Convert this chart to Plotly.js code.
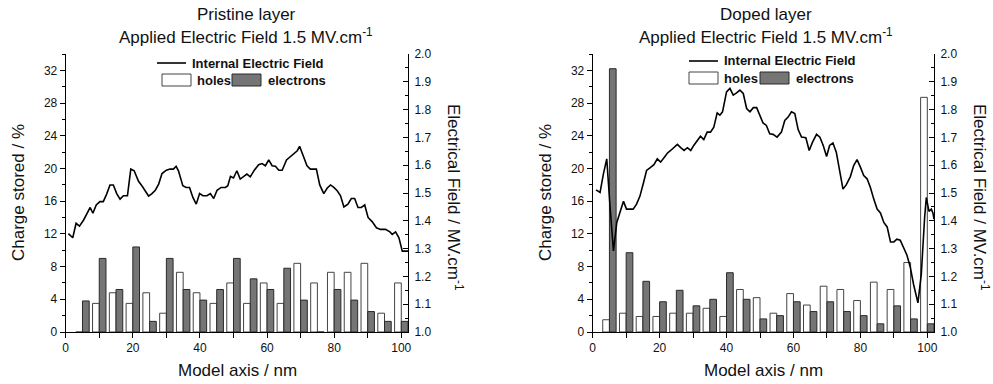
<!DOCTYPE html>
<html><head><meta charset="utf-8">
<script src="https://cdn.plot.ly/plotly-3.0.1.min.js"></script>
<style>html,body{margin:0;padding:0;background:#fff}#chart{width:993px;height:384px}</style>
</head><body><div id="chart"></div>
<script>
// Group centres (nm) of the hole/electron bar pairs
const groupCenters = [5,10,15,20,25,30,35,40,45,50,55,60,65,70,75,80,85,90,95,100];

// Pristine layer
const pristineHoles =     [0,3.5,4.8,3.5,4.8,2.3,7.3,4.8,3.5,6.0,3.5,6.0,3.5,8.4,6.0,7.3,7.3,8.4,2.3,6.0];
const pristineElectrons = [3.8,9.0,5.2,10.4,1.3,9.0,5.2,3.9,5.2,9.0,6.5,5.2,7.8,3.9,0,5.2,3.9,2.5,1.3,1.3];
const pristineFieldX = [0.8,2.1,3.1,4.1,5.3,6.3,7.3,8.1,9.1,10.2,11.2,12.2,13.2,14.2,15.2,16.2,17.2,18.4,19.4,20.4,21.7,22.7,23.7,24.7,25.7,26.7,27.7,28.7,30.0,31.1,32.1,32.9,33.6,34.9,35.9,36.9,37.9,38.9,39.9,40.9,42.1,43.1,44.1,45.1,46.3,47.6,48.3,49.1,50.0,51.0,52.0,53.0,54.0,55.0,56.2,57.5,58.5,59.5,60.5,61.5,62.5,63.5,64.5,65.8,67.0,68.0,69.0,69.7,70.8,71.9,72.9,74.7,75.7,76.9,77.9,78.9,79.9,80.9,81.9,82.9,84.1,85.1,86.1,87.1,88.1,89.1,90.1,91.3,92.6,93.8,95.3,96.6,97.3,98.3,99.3,100.3,102.0];
const pristineField = [1.354,1.339,1.391,1.381,1.402,1.424,1.448,1.427,1.457,1.469,1.469,1.496,1.529,1.529,1.498,1.478,1.490,1.490,1.586,1.580,1.542,1.526,1.505,1.489,1.498,1.510,1.532,1.570,1.582,1.586,1.586,1.596,1.580,1.526,1.520,1.520,1.484,1.460,1.498,1.490,1.490,1.498,1.480,1.510,1.520,1.520,1.526,1.560,1.554,1.580,1.550,1.558,1.568,1.558,1.582,1.602,1.606,1.598,1.619,1.598,1.596,1.582,1.582,1.619,1.631,1.640,1.652,1.668,1.634,1.598,1.586,1.586,1.529,1.498,1.517,1.529,1.520,1.508,1.490,1.450,1.460,1.480,1.480,1.448,1.448,1.457,1.412,1.397,1.375,1.369,1.369,1.360,1.351,1.360,1.339,1.291,1.291];

// Doped layer
const dopedHoles =     [1.5,2.3,1.9,1.9,2.3,2.3,2.9,1.9,5.2,4.2,2.3,4.7,3.3,5.6,5.2,3.85,6.1,5.2,8.5,28.7];
const dopedElectrons = [32.2,9.7,6.2,3.7,5.1,3.2,4.0,7.25,4.0,1.6,2.0,3.7,2.5,3.7,2.5,2.0,1.0,3.2,1.6,1.0];
const dopedFieldX = [1.0,2.2,3.2,4.2,5.2,6.2,7.2,8.2,9.2,10.1,11.1,12.1,13.1,14.1,15.1,16.1,17.1,18.3,19.3,20.3,21.3,22.3,23.3,24.3,25.3,26.3,27.3,28.3,29.3,30.2,31.2,32.2,33.2,34.2,35.2,36.2,37.2,38.0,38.8,40.0,41.0,42.0,43.0,44.0,45.0,46.0,47.0,48.0,49.0,50.0,50.9,51.9,52.9,53.9,55.1,56.4,57.4,58.4,59.4,60.4,61.4,62.4,63.7,64.7,65.7,66.9,67.9,68.9,69.9,70.8,71.8,72.8,73.8,74.8,75.8,77.0,78.0,79.0,80.0,81.0,82.0,83.0,84.0,85.0,86.0,87.0,88.0,89.0,90.0,90.9,91.9,92.9,93.9,94.9,95.9,97.2,98.2,99.2,99.7,100.5,101.2,101.7,102.0];
const dopedField = [1.511,1.502,1.569,1.623,1.448,1.292,1.394,1.436,1.470,1.442,1.442,1.442,1.460,1.488,1.533,1.581,1.590,1.602,1.623,1.611,1.627,1.643,1.653,1.663,1.675,1.663,1.653,1.663,1.653,1.671,1.689,1.704,1.692,1.719,1.719,1.737,1.788,1.780,1.792,1.864,1.876,1.852,1.860,1.870,1.858,1.804,1.792,1.807,1.807,1.780,1.752,1.743,1.713,1.711,1.701,1.719,1.761,1.773,1.792,1.786,1.728,1.701,1.699,1.653,1.683,1.711,1.701,1.671,1.631,1.671,1.680,1.647,1.581,1.514,1.530,1.559,1.599,1.620,1.593,1.563,1.551,1.520,1.478,1.442,1.428,1.394,1.378,1.324,1.324,1.334,1.330,1.304,1.277,1.234,1.171,1.105,1.207,1.412,1.484,1.434,1.442,1.427,1.406];

const chartTitles = ['Pristine layer','Doped layer'];
const subTitle = 'Applied Electric Field 1.5 MV.cm<sup>-1</sup>';
const xTitle = 'Model axis / nm';
const yLeftTitle = 'Charge stored / %';
const yRightTitle = 'Electrical Field / MV.cm<sup>-1</sup>';
const legendNames = ['Internal Electric Field','holes','electrons'];

const W = 993, H = 384, T = 54, B = 52;
const px = x => x / W;
const py = y => (H - B - y) / (H - T - B);

const FONT = 'Liberation Sans, Arial, sans-serif';
const holeStyle = {color:'#ffffff', line:{color:'#444', width:1}};
const elecStyle = {color:'#757575', line:{color:'#2a2a2a', width:1}};
const lineStyle = {color:'#000', width:1.6};

const traces = [
  {type:'bar', x:groupCenters, y:pristineHoles, xaxis:'x', yaxis:'y', marker:holeStyle, name:legendNames[1], showlegend:false},
  {type:'bar', x:groupCenters, y:pristineElectrons, xaxis:'x', yaxis:'y', marker:elecStyle, name:legendNames[2], showlegend:false},
  {type:'scatter', mode:'lines', x:pristineFieldX, y:pristineField, xaxis:'x', yaxis:'y2', line:lineStyle, name:legendNames[0], showlegend:false},
  {type:'bar', x:groupCenters, y:dopedHoles, xaxis:'x2', yaxis:'y3', marker:holeStyle, name:legendNames[1], showlegend:false},
  {type:'bar', x:groupCenters, y:dopedElectrons, xaxis:'x2', yaxis:'y3', marker:elecStyle, name:legendNames[2], showlegend:false},
  {type:'scatter', mode:'lines', x:dopedFieldX, y:dopedField, xaxis:'x2', yaxis:'y4', line:lineStyle, name:legendNames[0], showlegend:false}
];

const xBase = {range:[0,102], showgrid:false, zeroline:false, showline:true, linecolor:'#000', linewidth:1,
  ticks:'outside', ticklen:5, tickcolor:'#000', dtick:20, tick0:0, tickfont:{size:12, color:'#111'},
  minor:{dtick:10, ticks:'outside', ticklen:5, tickcolor:'#000'}, fixedrange:true};
const yLeftBase = {range:[0,34], showgrid:false, zeroline:false, showline:true, linecolor:'#000', linewidth:1,
  ticks:'outside', ticklen:5, tickcolor:'#000', dtick:4, tick0:0, tickfont:{size:12, color:'#111'},
  minor:{dtick:2, ticks:'outside', ticklen:3, tickcolor:'#000'}, side:'left'};
const yRightBase = {range:[1.0,2.0], showgrid:false, zeroline:false, showline:true, linecolor:'#000', linewidth:1,
  ticks:'inside', ticklen:5, tickcolor:'#000', dtick:0.1, tick0:1.0, tickformat:'.1f', tickfont:{size:12, color:'#111'},
  minor:{dtick:0.05, ticks:'inside', ticklen:3, tickcolor:'#000'}, side:'right', ticklabelstandoff:3};

const dom1 = [65.7/W, 408/W], dom2 = [592.7/W, 934/W];

const ann = [];
const shapes = [];
function addChartText(cx, title){
  ann.push({text:title, x:px(cx), y:py(15), xref:'paper', yref:'paper', showarrow:false, xanchor:'center', yanchor:'middle', font:{size:17, color:'#111', family:FONT}});
  ann.push({text:subTitle, x:px(cx), y:py(36), xref:'paper', yref:'paper', showarrow:false, xanchor:'center', yanchor:'middle', font:{size:17, color:'#111', family:FONT}});
}
addChartText(246, chartTitles[0]);
addChartText(766, chartTitles[1]);
// axis titles
[[237,18,455],[763,545,981]].forEach(([cx, lx, rx]) => {
  ann.push({text:xTitle, x:px(cx), y:py(370), xref:'paper', yref:'paper', showarrow:false, xanchor:'center', yanchor:'middle', font:{size:17, color:'#111', family:FONT}});
  ann.push({text:yLeftTitle, x:px(lx), y:py(193), xref:'paper', yref:'paper', showarrow:false, textangle:-90, xanchor:'center', yanchor:'middle', font:{size:17, color:'#111', family:FONT}});
  ann.push({text:yRightTitle, x:px(rx), y:py(197), xref:'paper', yref:'paper', showarrow:false, textangle:90, xanchor:'center', yanchor:'middle', font:{size:17, color:'#111', family:FONT}});
});
// in-plot legends
function addLegend(lx0, ly, hx0, hy0, hy1, ex0){
  shapes.push({type:'line', xref:'paper', yref:'paper', x0:px(lx0), x1:px(lx0+29), y0:py(ly), y1:py(ly), line:{color:'#000', width:1.6}});
  ann.push({text:'<b>'+legendNames[0]+'</b>', x:px(lx0+33), y:py(ly), xref:'paper', yref:'paper', showarrow:false, xanchor:'left', yanchor:'middle', font:{size:13, color:'#111', family:FONT}});
  const ym = (hy0+hy1)/2;
  shapes.push({type:'rect', xref:'paper', yref:'paper', x0:px(hx0), x1:px(hx0+29), y0:py(hy1), y1:py(hy0), fillcolor:'#fff', line:{color:'#444', width:1}});
  ann.push({text:'<b>'+legendNames[1]+'</b>', x:px(hx0+33), y:py(ym), xref:'paper', yref:'paper', showarrow:false, xanchor:'left', yanchor:'middle', font:{size:13, color:'#111', family:FONT}});
  shapes.push({type:'rect', xref:'paper', yref:'paper', x0:px(ex0), x1:px(ex0+29), y0:py(hy1), y1:py(hy0), fillcolor:'#757575', line:{color:'#2a2a2a', width:1}});
  ann.push({text:'<b>'+legendNames[2]+'</b>', x:px(ex0+34), y:py(ym), xref:'paper', yref:'paper', showarrow:false, xanchor:'left', yanchor:'middle', font:{size:13, color:'#111', family:FONT}});
}
addLegend(157, 63, 162, 74, 86, 232);
addLegend(689, 61, 689, 72, 84, 760);

const layout = {
  width:W, height:H, margin:{l:0, r:0, t:T, b:B, pad:0},
  paper_bgcolor:'#fff', plot_bgcolor:'rgba(0,0,0,0)',
  font:{family:FONT, color:'#111'},
  showlegend:false, barmode:'group', bargap:0.2, bargroupgap:0,
  xaxis:Object.assign({}, xBase, {domain:dom1, anchor:'y'}),
  xaxis2:Object.assign({}, xBase, {domain:dom2, anchor:'y3'}),
  yaxis:Object.assign({}, yLeftBase, {anchor:'x', domain:[0,1]}),
  yaxis2:Object.assign({}, yRightBase, {anchor:'x', overlaying:'y'}),
  yaxis3:Object.assign({}, yLeftBase, {anchor:'x2', domain:[0,1]}),
  yaxis4:Object.assign({}, yRightBase, {anchor:'x2', overlaying:'y3'}),
  annotations:ann, shapes:shapes
};
Plotly.newPlot('chart', traces, layout, {staticPlot:true, displayModeBar:false});
</script></body></html>
